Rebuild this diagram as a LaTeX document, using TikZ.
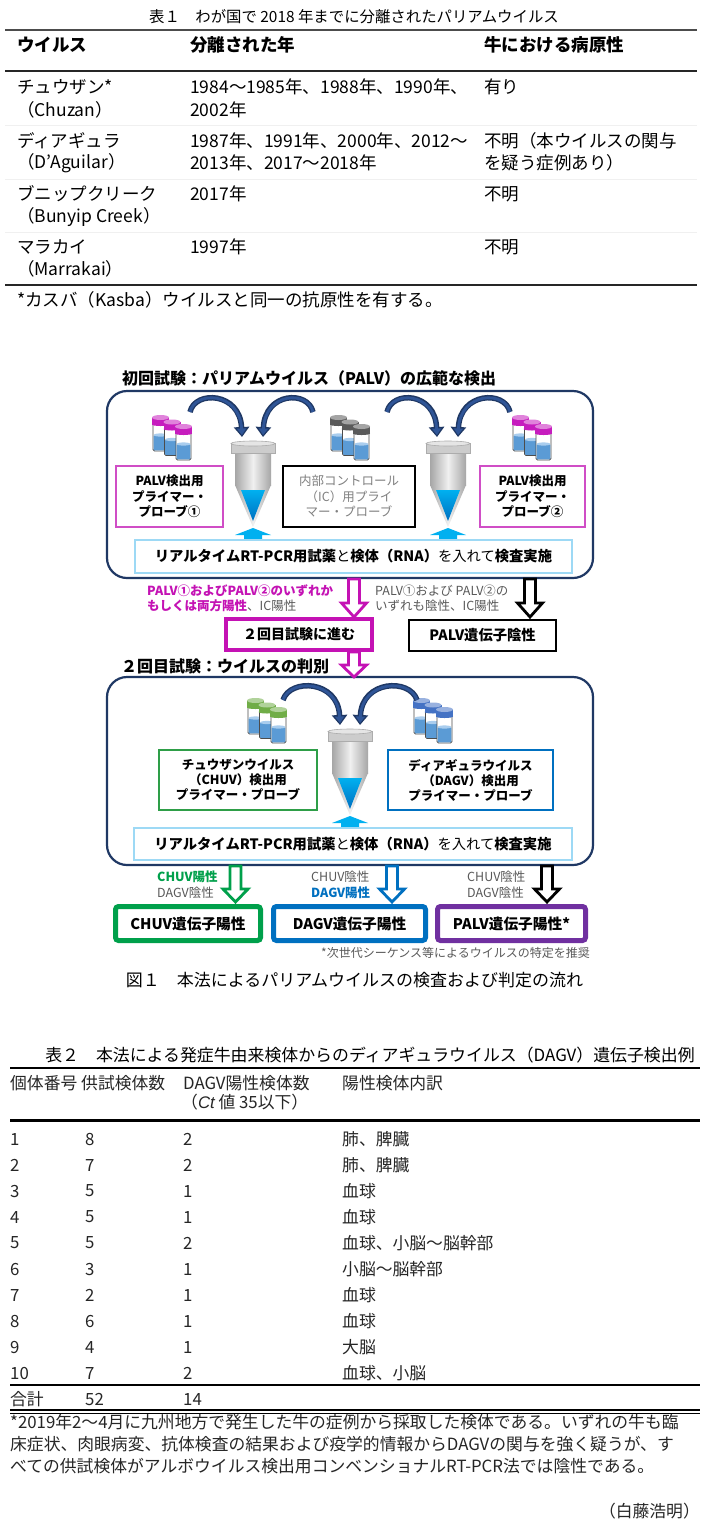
\documentclass[tikz,border=0pt]{standalone}
\usepackage{fontspec}
\setmainfont{Noto Sans CJK JP}
\newfontfamily\latinit{Liberation Sans}
\usetikzlibrary{arrows.meta}
\definecolor{navy}{HTML}{1F3864}
\definecolor{cblue}{HTML}{2F5597}
\definecolor{mag}{HTML}{C412B4}
\definecolor{magl}{HTML}{D04EC6}
\definecolor{grn}{HTML}{00A04B}
\definecolor{grnl}{HTML}{2E9E48}
\definecolor{blu}{HTML}{0070C0}
\definecolor{pur}{HTML}{7030A0}
\definecolor{sky}{HTML}{00B0F0}
\definecolor{skyl}{HTML}{9DD9F5}
\definecolor{tgray}{HTML}{595959}
\definecolor{lgray}{HTML}{808080}
\definecolor{liq}{HTML}{5B9BD5}
\definecolor{liqt}{HTML}{A9CDEE}
\definecolor{capm}{HTML}{C61CBE}
\definecolor{capg}{HTML}{5A5A5A}
\definecolor{capgr}{HTML}{70AD47}
\definecolor{capb}{HTML}{4472C4}
\definecolor{tubeg}{HTML}{A6A6A6}
\newcommand{\fsz}[2]{\fontsize{#1}{#2}\selectfont}
\tikzset{
  pics/vial/.style={code={
    \draw[black!70, line width=0.8pt, fill=white, rounded corners=1.5pt] (1,8) rectangle (16,36);
    \fill[liq, rounded corners=1pt] (1.6,20) rectangle (15.4,35.4);
    \fill[liqt] (8.5,20) ellipse [x radius=6.9pt, y radius=1.6pt];
    \fill[#1] (0,2.5) rectangle (17,9.5);
    \fill[#1] (8.5,9.5) ellipse [x radius=8.5pt, y radius=1.5pt];
    \fill[#1!55!white] (8.5,2.5) ellipse [x radius=8.5pt, y radius=2.5pt];
  }},
  pics/vials/.style={code={
    \pic at (0,0) {vial=#1};
    \pic at (11.5,4.5) {vial=#1};
    \pic at (23,9) {vial=#1};
  }},
  pics/tube/.style={code={
    \shade[left color=tubeg, right color=tubeg, middle color=gray!12] (-18,12) rectangle (18,44);
    \shade[left color=tubeg, right color=tubeg, middle color=gray!12] (-18,44) -- (18,44) -- (0,86) -- cycle;
    \shade[top color=sky, bottom color=blu] (-12,49) -- (12,49) -- (0,80) -- cycle;
    \filldraw[fill=gray!40, draw=gray!65, line width=0.6pt] (-22,2.5) rectangle (22,12);
    \filldraw[fill=gray!20, draw=gray!65, line width=0.6pt] (0,2.5) ellipse [x radius=22pt, y radius=2.5pt];
  }},
  tx/.style={anchor=west, inner sep=0pt},
  b1/.style={tx, font=\fsz{17.5}{21}},
  h1/.style={tx, font=\fsz{17.5}{21}\bfseries},
  b2/.style={tx, font=\fsz{16.8}{20}, text=black!85},
  lab/.style={tx, font=\fsz{12.5}{15}},
  pbox/.style={draw=#1, line width=1.3pt, fill=white, inner sep=0pt, align=center},
  rbox/.style={draw=#1, line width=5pt, rounded corners=3pt, fill=white, inner sep=0pt,
     minimum height=34pt, font=\fsz{14.7}{17}\bfseries},
  panel/.style={draw=navy, line width=2.2pt, rounded corners=20pt, fill=white, inner sep=0pt,
     minimum width=486pt},
}
\newcommand{\carr}[4]{%
  \draw[line width=5.5pt, navy, -{Triangle[width=15pt,length=10pt]}] #1 .. controls #2 and #3 .. #4;
  \draw[line width=2.8pt, cblue, shorten >=2pt, -{Triangle[width=9pt,length=6.5pt]}] #1 .. controls #2 and #3 .. #4;}
\newcommand{\harr}[5]{%
  \filldraw[fill=white, draw=#5, line width=2.8pt, line join=miter]
   (#1-5.5,#2) -- (#1+5.5,#2) -- (#1+5.5,#3) -- (#1+12.5,#3) -- (#1,#4) -- (#1-12.5,#3) -- (#1-5.5,#3) -- cycle;}
\newcommand{\uparr}[2]{%
  \fill[sky] (#1,#2-12) -- (#1+18,#2-5) -- (#1+9,#2-5) -- (#1+9,#2+1) -- (#1-9,#2+1) -- (#1-9,#2-5) -- (#1-18,#2-5) -- cycle;}
\begin{document}
\begin{tikzpicture}[x=1pt,y=-1pt]
\useasboundingbox (0,0) rectangle (705,1535);
\fill[white] (0,0) rectangle (705,1535);

% ================= Table 1
\node[inner sep=0pt, font=\fsz{15.4}{18}] (t1title) at (354,17) {表１　わが国で 2018 年までに分離されたパリアムウイルス};
\draw[line width=2pt, black!70] (5,30) -- (697,30);
\node[h1] (t1h1) at (17,45) {ウイルス};
\node[h1] (t1h2) at (190,45) {分離された年};
\node[h1] (t1h3) at (484,45) {牛における病原性};
\draw[line width=2pt, black!85] (5,71) -- (697,71);
\draw[line width=0.8pt, gray!12] (5,125) -- (697,125);
\draw[line width=0.8pt, gray!12] (5,179) -- (697,179);
\draw[line width=0.8pt, gray!12] (5,232) -- (697,232);

\node[b1] (r1a) at (17,87) {チュウザン*};
\node[b1] (r1b) at (17,110) {（Chuzan）};
\node[b1] (r1c) at (190,87) {1984～1985年、1988年、1990年、};
\node[b1] (r1d) at (190,110) {2002年};
\node[b1] (r1e) at (484,87) {有り};

\node[b1] (r2a) at (17,141) {ディアギュラ};
\node[b1] (r2b) at (17,163) {（D’Aguilar）};
\node[b1] (r2c) at (190,141) {1987年、1991年、2000年、2012～};
\node[b1] (r2d) at (190,163) {2013年、2017～2018年};
\node[b1] (r2e) at (484,141) {不明（本ウイルスの関与};
\node[b1] (r2f) at (484,163) {を疑う症例あり）};

\node[b1] (r3a) at (17,194) {ブニップクリーク};
\node[b1] (r3b) at (17,217) {（Bunyip Creek）};
\node[b1] (r3c) at (190,194) {2017年};
\node[b1] (r3e) at (484,194) {不明};

\node[b1] (r4a) at (17,247) {マラカイ};
\node[b1] (r4b) at (17,269) {（Marrakai）};
\node[b1] (r4c) at (190,247) {1997年};
\node[b1] (r4e) at (484,247) {不明};
\draw[line width=2pt, black!85] (5,285) -- (697,285);
\node[b1] (t1foot) at (17,300) {*カスバ（Kasba）ウイルスと同一の抗原性を有する。};

% ================= Figure: panel 1
\node[tx, font=\fsz{16}{19}\bfseries] (sec1) at (122,378) {初回試験：パリアムウイルス（PALV）の広範な検出};
\node[panel, minimum height=187pt] (panel1) at (350,484.5) {};

\pic at (152,415) {vials=capm};
\pic at (330,415) {vials=capg};
\pic at (512,415) {vials=capm};
\pic at (253,441) {tube};
\pic at (448,441) {tube};
\carr{(190,412)}{(195,390)}{(240,392)}{(242,437)}
\carr{(313,412)}{(308,390)}{(265,392)}{(263,437)}
\carr{(387,412)}{(392,390)}{(435,392)}{(437,437)}
\carr{(510,412)}{(505,390)}{(460,392)}{(458,437)}

\node[pbox=magl, minimum width=107pt, minimum height=61pt, font=\fsz{12.5}{15.5}\bfseries] (probe1) at (169.5,496.5) {PALV検出用\\プライマー・\\プローブ①};
\node[pbox=black, minimum width=132pt, minimum height=61pt, font=\fsz{12.5}{15.5}, text=lgray] (icbox) at (349,496.5) {内部コントロール\\（IC）用プライ\\マー・プローブ};
\node[pbox=magl, minimum width=105pt, minimum height=61pt, font=\fsz{12.5}{15.5}\bfseries] (probe2) at (532.5,496.5) {PALV検出用\\プライマー・\\プローブ②};

\uparr{253}{540}
\uparr{448}{540}
\node[pbox=skyl, line width=1.2pt, minimum width=437pt, minimum height=33pt, font=\fsz{14.3}{17}] (rt1) at (353.5,556.5)
  {{\bfseries リアルタイムRT-PCR用試薬}と{\bfseries 検体（RNA）}を入れて{\bfseries 検査実施}};

% results of panel 1
\harr{354}{579}{603}{617}{mag}
\harr{530}{579}{603}{617}{black}
\node[lab, text=mag, font=\fsz{12.5}{15}\bfseries] (lab1a) at (147,591) {PALV①およびPALV②のいずれか};
\node[lab] (lab1b) at (147,606) {\textcolor{mag}{\bfseries もしくは両方陽性}\textcolor{tgray}{、IC陽性}};
\node[lab, text=tgray] (lab2a) at (375,591) {PALV①および PALV②の};
\node[lab, text=tgray] (lab2b) at (375,606) {いずれも陰性、IC陽性};

\node[draw=mag, line width=4pt, fill=white, minimum width=146pt, minimum height=31pt, inner sep=0pt, font=\fsz{14}{17}\bfseries] (go2) at (299,634.5) {２回目試験に進む};
\node[draw=black, line width=2.5pt, fill=white, minimum width=147pt, minimum height=31pt, inner sep=0pt, font=\fsz{14.3}{17}\bfseries] (neg) at (482.5,635.5) {PALV遺伝子陰性};

% ================= panel 2
\node[tx, font=\fsz{16}{19}\bfseries] (sec2) at (121,666) {２回目試験：ウイルスの判別};
\node[panel, minimum height=188pt] (panel2) at (350,771) {};
\harr{354}{652}{665}{677}{mag}
\pic at (247,698) {vials=capgr};
\pic at (413,698) {vials=capb};
\pic at (350,729) {tube};
\carr{(283,700)}{(290,678)}{(338,680)}{(340,725)}
\carr{(417,700)}{(410,678)}{(362,680)}{(360,725)}
\node[pbox=grnl, minimum width=158pt, minimum height=60pt, font=\fsz{12.5}{15}\bfseries] (chuvp) at (238,780) {チュウザンウイルス\\（CHUV）検出用\\プライマー・プローブ};
\node[pbox=blu, minimum width=165pt, minimum height=60pt, font=\fsz{12.5}{15}\bfseries] (dagvp) at (470.5,780) {ディアギュラウイルス\\（DAGV）検出用\\プライマー・プローブ};
\uparr{350}{828}
\node[pbox=skyl, line width=1.2pt, minimum width=438pt, minimum height=32pt, font=\fsz{14.3}{17}] (rt2) at (353,844)
  {{\bfseries リアルタイムRT-PCR用試薬}と{\bfseries 検体（RNA）}を入れて{\bfseries 検査実施}};

\harr{235.5}{866}{889}{902}{grn}
\harr{392}{866}{889}{902}{blu}
\harr{547}{866}{889}{902}{black}
\node[lab, text=grn, font=\fsz{12.5}{15}\bfseries] (g1) at (157,877) {CHUV陽性};
\node[lab, text=tgray] (g2) at (157,893) {DAGV陰性};
\node[lab, text=tgray] (bl1) at (311,877) {CHUV陰性};
\node[lab, text=blu, font=\fsz{12.5}{15}\bfseries] (bl2) at (311,893) {DAGV陽性};
\node[lab, text=tgray] (k1) at (467,877) {CHUV陰性};
\node[lab, text=tgray] (k2) at (467,893) {DAGV陰性};

\node[rbox=grn, minimum width=145pt] (res1) at (188,923.5) {CHUV遺伝子陽性};
\node[rbox=blu, minimum width=152pt] (res2) at (349.5,923.5) {DAGV遺伝子陽性};
\node[rbox=pur, minimum width=148pt] (res3) at (511.5,923.5) {PALV遺伝子陽性*};
\node[inner sep=0pt, anchor=east, font=\fsz{12}{14}, text=tgray] (fnote) at (590,953) {*次世代シーケンス等によるウイルスの特定を推奨};
\node[inner sep=0pt, font=\fsz{17}{20}] (figcap) at (354.5,980) {図１　本法によるパリアムウイルスの検査および判定の流れ};

% ================= Table 2
\node[inner sep=0pt, font=\fsz{16.9}{20}] (t2title) at (370,1055) {表２　本法による発症牛由来検体からのディアギュラウイルス（DAGV）遺伝子検出例};
\draw[line width=2pt] (10,1068) -- (700,1068);
\node[b2] (c1) at (10,1083) {個体番号};
\node[b2] (c2) at (81,1083) {供試検体数};
\node[b2] (c3) at (183,1083) {DAGV陽性検体数};
\node[b2] (c3b) at (181,1102) {（{\latinit\itshape Ct} 値 35以下）};
\node[b2] (c4) at (342,1083) {陽性検体内訳};
\draw[line width=3pt] (10,1120) -- (700,1120);

\foreach \n/\s/\d/\t [count=\i from 0] in {1/8/2/肺、脾臓, 2/7/2/肺、脾臓, 3/5/1/血球, 4/5/1/血球, 5/5/2/血球、小脳～脳幹部, 6/3/1/小脳～脳幹部, 7/2/1/血球, 8/6/1/血球, 9/4/1/大脳, 10/7/2/血球、小脳}{
  \node[b2] (n\i) at (10,1139+26*\i) {\n};
  \node[b2] (s\i) at (85,1139+26*\i) {\s};
  \node[b2] (d\i) at (183,1139+26*\i) {\d};
  \node[b2] (t\i) at (342,1139+26*\i) {\t};
}
\draw[line width=2.5pt] (10,1385) -- (700,1385);
\node[b2] (sum1) at (10,1399) {合計};
\node[b2] (sum2) at (85,1399) {52};
\node[b2] (sum3) at (183,1399) {14};
\draw[line width=1.2pt] (10,1410) -- (700,1410);
\draw[line width=1.2pt] (10,1413.5) -- (700,1413.5);
\node[b2] (f1) at (10,1422) {*2019年2～4月に九州地方で発生した牛の症例から採取した検体である。いずれの牛も臨};
\node[b2] (f2) at (10,1444) {床症状、肉眼病変、抗体検査の結果および疫学的情報からDAGVの関与を強く疑うが、す};
\node[b2] (f3) at (10,1466) {べての供試検体がアルボウイルス検出用コンベンショナルRT-PCR法では陰性である。};
\node[b2, anchor=east] (auth) at (700,1511) {（白藤浩明）};
\end{tikzpicture}
\end{document}
